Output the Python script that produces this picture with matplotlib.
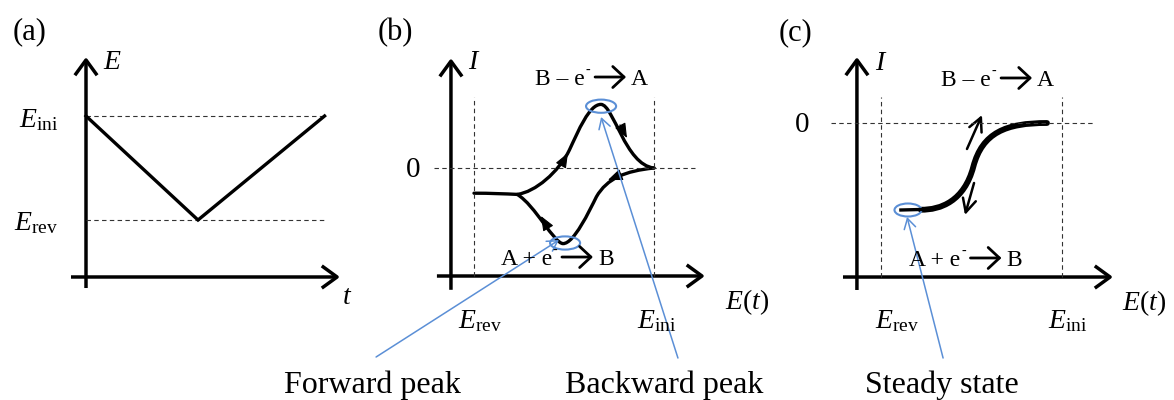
import matplotlib
matplotlib.use("Agg")
import matplotlib.pyplot as plt
from matplotlib.path import Path
from matplotlib.patches import PathPatch, Ellipse, FancyArrowPatch
from matplotlib.transforms import offset_copy

plt.rcParams["font.family"] = ["Liberation Serif", "DejaVu Serif"]
plt.rcParams["mathtext.fontset"] = "custom"
plt.rcParams["mathtext.rm"] = "Liberation Serif"
plt.rcParams["mathtext.it"] = "Liberation Serif:italic"

# ---------------- data ----------------
# (a) triangular potential sweep
sweep_t = [0.0, 1.0, 2.13]
sweep_E = [1.0, 0.0, 1.0]          # E_ini -> E_rev -> E_ini
E_INI, E_REV = 1.0, 0.0

# (b) cyclic voltammogram, cubic Bezier control points (E, I)
cv_forward = [(1.00, 0.00), (0.84, -0.05), (0.74, -0.17), (0.68, -0.48),
              (0.64, -0.72), (0.555, -1.26), (0.495, -1.26),
              (0.445, -1.26), (0.34, -0.62), (0.24, -0.44)]
cv_backward = [(0.00, -0.42), (0.09, -0.42), (0.17, -0.43), (0.24, -0.44),
               (0.34, -0.40), (0.47, -0.07), (0.53, 0.30),
               (0.58, 0.62), (0.64, 1.06), (0.705, 1.06),
               (0.775, 1.06), (0.84, 0.05), (1.00, 0.00)]
cv_arrows = [((0.494, 0.10), (0.522, 0.25)),     # (tail, tip)
             ((0.811, 0.72), (0.850, 0.50)),
             ((0.811, -0.12), (0.744, -0.20)),
             ((0.411, -1.00), (0.372, -0.80))]
peak_forward = (0.506, -1.25)
peak_backward = (0.706, 1.03)

# (c) steady-state wave
ss_lead = [(0.11, -1.45), (0.24, -1.44)]
ss_wave = [(0.22, -1.445), (0.33, -1.45), (0.46, -1.30), (0.51, -0.73),
           (0.56, -0.16), (0.69, 0.00), (0.917, 0.00)]
ss_arrows = [((0.475, -0.433), (0.558, 0.133)),
             ((0.514, -1.000), (0.464, -1.533))]
steady_point = (0.149, -1.45)

# ---------------- styling ----------------
W, H = 1174, 400
BLUE = "#5b8fd6"
DASH = dict(color="#333333", lw=0.8, dashes=(4, 3))
AX_ARROW = dict(arrowstyle="->,head_length=0.55,head_width=0.4",
                mutation_scale=20, lw=2.5, color="black",
                shrinkA=0, shrinkB=0, capstyle="butt")

fig = plt.figure(figsize=(W / 100, H / 100), dpi=100)


def panel(x0, y0, sx, sy):
    """Axes over the whole figure; data origin at pixel (x0, y0)."""
    ax = fig.add_axes([0, 0, 1, 1])
    ax.set_xlim(-x0 / sx, (W - x0) / sx)
    ax.set_ylim((y0 - H) / sy, y0 / sy)
    ax.axis("off")
    ax.patch.set_alpha(0)
    return ax


def axis_arrows(ax, xorig, yorig, xmin, xmax, ymin, ymax):
    ax.add_patch(FancyArrowPatch((xmin, yorig), (xmax, yorig), **AX_ARROW))
    ax.add_patch(FancyArrowPatch((xorig, ymin), (xorig, ymax), **AX_ARROW))


def bezier(ax, pts, lw, color="black"):
    codes = [Path.MOVETO] + [Path.CURVE4] * (len(pts) - 1)
    ax.add_patch(PathPatch(Path(pts, codes), fc="none", ec=color, lw=lw,
                           capstyle="round", joinstyle="round"))


def pointer(ax, tail, tip, color=BLUE, lw=1.1):
    ax.add_patch(FancyArrowPatch(tail, tip,
                                 arrowstyle="->,head_length=0.6,head_width=0.35",
                                 mutation_scale=12, lw=lw, color=color,
                                 shrinkA=0, shrinkB=0))


def reaction(ax, x, y, left, right):
    """'left e⁻ → right' with (x, y) at the baseline end of the 'e'."""
    fs = 17
    ax.annotate(left, (x, y), xytext=(0, 0), textcoords="offset pixels",
                fontsize=fs, ha="right", va="baseline")
    ax.annotate("-", (x, y), xytext=(3, 11), textcoords="offset pixels",
                fontsize=10, ha="center", va="baseline")
    t_tail = offset_copy(ax.transData, fig=fig, x=10, y=8, units="dots")
    t_tip = offset_copy(ax.transData, fig=fig, x=41, y=8, units="dots")
    ax.annotate("", xy=(x, y), xycoords=t_tip, xytext=(x, y), textcoords=t_tail,
                arrowprops=dict(arrowstyle="->,head_length=0.45,head_width=0.42",
                                mutation_scale=18, lw=2.0, color="black",
                                shrinkA=0, shrinkB=0))
    ax.annotate(right, (x, y), xytext=(46, 0), textcoords="offset pixels",
                fontsize=fs, ha="left", va="baseline")


# ---------------- (a) ----------------
axa = panel(86, 220, 112, 104)
axis_arrows(axa, 0, -0.548, -0.134, 2.268, -0.654, 1.567)
for lev in (E_INI, E_REV):
    axa.plot([sweep_t[0], sweep_t[-1]], [lev, lev], **DASH)
axa.plot(sweep_t, sweep_E, color="black", lw=2.4, solid_joinstyle="miter")
axa.text(-0.5, 1.808, "(a)", fontsize=22, ha="center", va="center")
axa.text(0.232, 1.51, r"$E$", fontsize=20, ha="center", va="center")
axa.text(-0.25, 0.894, r"$E_{\mathrm{ini}}$", fontsize=20, ha="right", va="baseline")
axa.text(-0.25, -0.096, r"$E_{\mathrm{rev}}$", fontsize=20, ha="right", va="baseline")
axa.text(2.33, -0.75, r"$t$", fontsize=20, ha="center", va="center")

# ---------------- (b) ----------------
axb = panel(474, 168, 180, 60)
for e in (E_REV, E_INI):
    axb.plot([e, e], [-1.8, 1.183], **DASH)
axb.plot([-0.222, 1.228], [0, 0], **DASH)
axis_arrows(axb, -0.128, -1.8, -0.206, 1.283, -2.03, 1.83)
bezier(axb, cv_forward, 2.4)
bezier(axb, cv_backward, 2.4)
for tail, tip in cv_arrows:
    axb.add_patch(FancyArrowPatch(tail, tip,
                                  arrowstyle="-|>,head_length=0.75,head_width=0.3",
                                  mutation_scale=12, lw=0.8, color="black",
                                  shrinkA=0, shrinkB=0))
for c in (peak_forward, peak_backward):
    axb.add_patch(Ellipse(c, 0.167, 0.22, fc="none", ec=BLUE, lw=1.5))
pointer(axb, (-0.544, -3.15), (0.472, -1.20))
pointer(axb, (1.133, -3.167), (0.706, 0.85))
axb.text(-0.439, 2.25, "(b)", fontsize=22, ha="center", va="center")
axb.text(0.0, 1.75, r"$I$", fontsize=20, ha="center", va="center")
axb.text(-0.339, -0.03, "0", fontsize=21, ha="center", va="center")
reaction(axb, 0.617, 1.383, "B – e", "A")
reaction(axb, 0.433, -1.617, "A + e", "B")
axb.text(1.517, -2.233, r"$E(t)$", fontsize=20, ha="center", va="center")
axb.text(0.033, -2.667, r"$E_{\mathrm{rev}}$", fontsize=20, ha="center", va="baseline")
axb.text(1.017, -2.667, r"$E_{\mathrm{ini}}$", fontsize=20, ha="center", va="baseline")
axb.text(-0.567, -3.75, "Forward peak", fontsize=23, ha="center", va="baseline")
axb.text(1.056, -3.75, "Backward peak", fontsize=23, ha="center", va="baseline")

# ---------------- (c) ----------------
axc = panel(881, 123, 181, 60)
for e in (E_REV, E_INI):
    axc.plot([e, e], [-2.567, 0.433], **DASH)
axc.plot([-0.276, 1.171], [0, 0], **DASH)
axis_arrows(axc, -0.133, -2.567, -0.21, 1.282, -2.783, 1.1)
axc.plot(*zip(*ss_lead), color="black", lw=2.4)
bezier(axc, ss_wave, 4.2)
for tail, tip in ss_arrows:
    axc.add_patch(FancyArrowPatch(tail, tip,
                                  arrowstyle="->,head_length=0.8,head_width=0.4",
                                  mutation_scale=12, lw=1.8, color="black",
                                  shrinkA=0, shrinkB=0))
axc.add_patch(Ellipse(steady_point, 0.149, 0.217, fc="none", ec=BLUE, lw=1.5))
pointer(axc, (0.343, -3.917), (0.144, -1.567))
axc.text(-0.475, 1.5, "(c)", fontsize=22, ha="center", va="center")
axc.text(0.0, 1.0, r"$I$", fontsize=20, ha="center", va="center")
axc.text(-0.436, -0.03, "0", fontsize=21, ha="center", va="center")
reaction(axc, 0.608, 0.617, "B – e", "A")
reaction(axc, 0.439, -2.383, "A + e", "B")
axc.text(1.453, -3.0, r"$E(t)$", fontsize=20, ha="center", va="center")
axc.text(0.088, -3.417, r"$E_{\mathrm{rev}}$", fontsize=20, ha="center", va="baseline")
axc.text(1.033, -3.417, r"$E_{\mathrm{ini}}$", fontsize=20, ha="center", va="baseline")
axc.text(0.337, -4.5, "Steady state", fontsize=23, ha="center", va="baseline")

fig.savefig("out.png", dpi=100)
